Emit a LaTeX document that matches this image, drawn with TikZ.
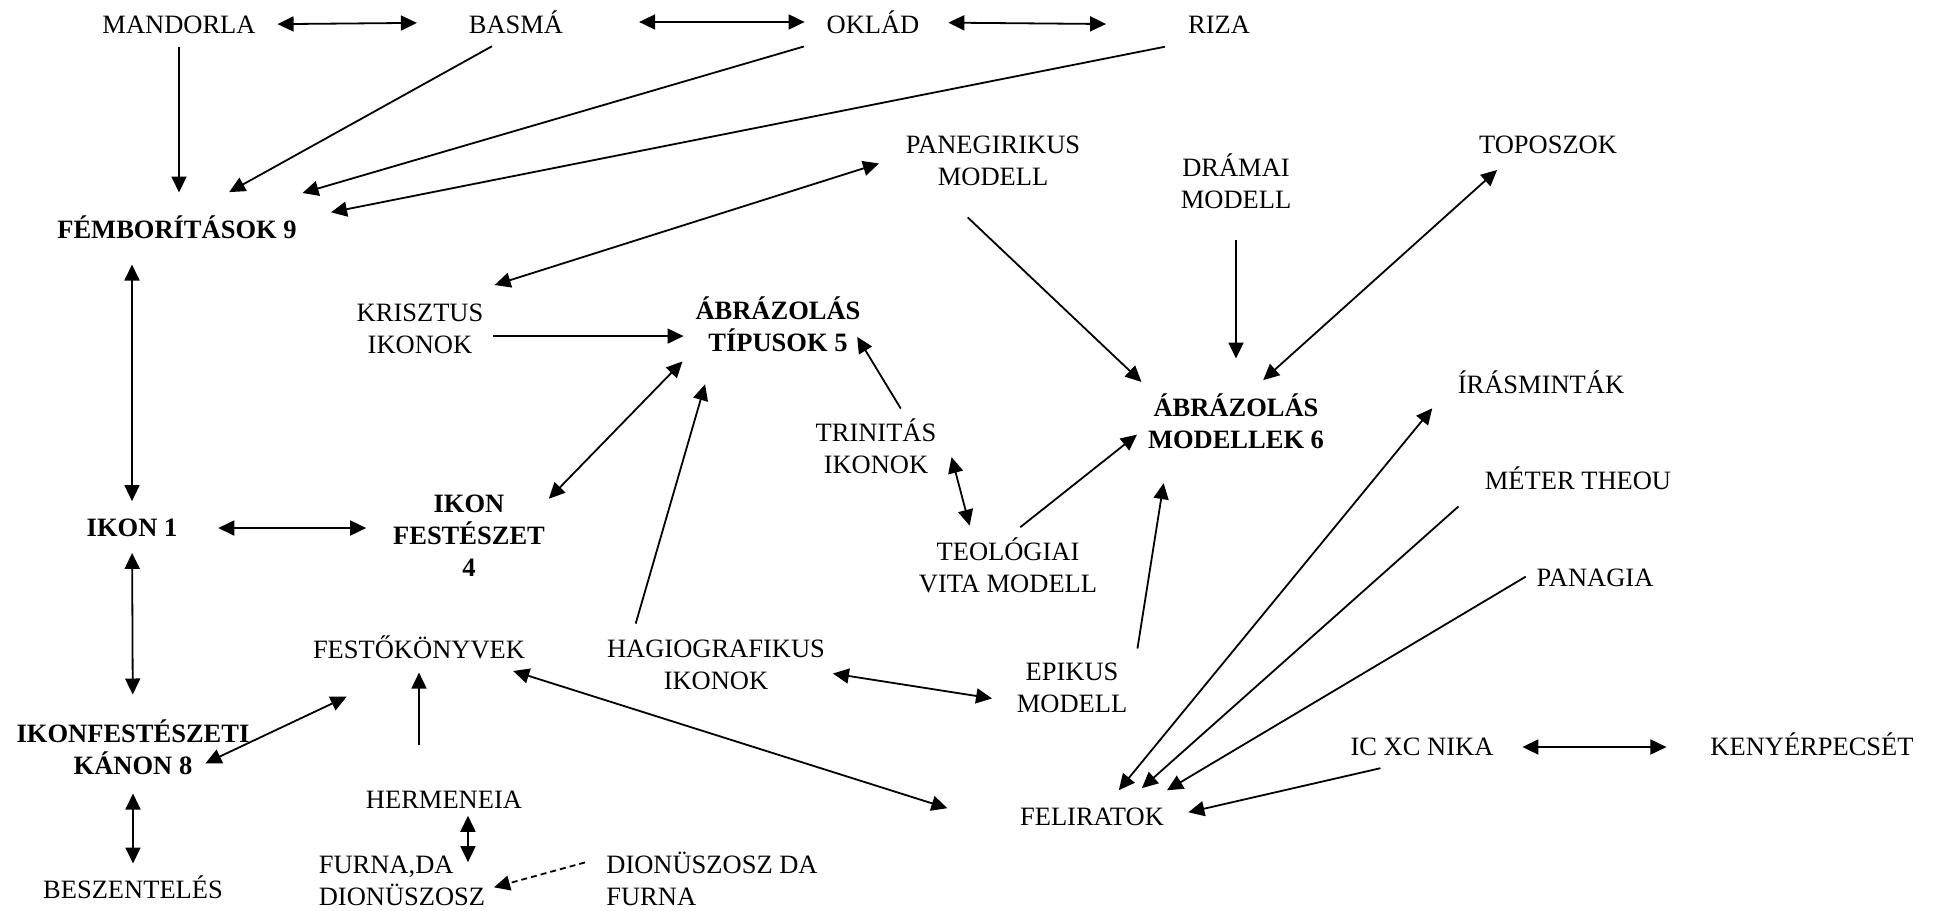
\documentclass[tikz,border=0pt]{standalone}
\usepackage{fontspec}
\setmainfont{Liberation Serif}
\usepackage{tikz}
\usetikzlibrary{arrows.meta}

\begin{document}
\begin{tikzpicture}[
    x=1pt, y=-1pt,
    every node/.style={font=\fontsize{26.5}{32}\selectfont, inner sep=4pt, outer sep=0pt},
    concepto/.style={align=center},
    clave/.style={align=center, font=\fontsize{26.5}{32}\selectfont\bfseries},
    arrow/.style={-{Triangle[length=16pt,width=15pt]}, line width=1.8pt},
    darrow/.style={{Triangle[length=16pt,width=15pt]}-{Triangle[length=16pt,width=15pt]}, line width=1.8pt},
    dashedarrow/.style={-{Triangle[length=16pt,width=15pt]}, line width=1.8pt, dash pattern=on 6pt off 4pt}
]
\useasboundingbox (0,0) rectangle (1937,910);

% Nodos (coordenadas en px de la imagen)
\node[concepto] (mandorla) at (179,25) {MANDORLA};
\node[concepto] (basma) at (516,22) {BASMÁ};
\node[concepto] (oklad) at (873,22) {OKLÁD};
\node[concepto] (riza) at (1219,25) {RIZA};
\node[clave] (fem) at (177,227) {FÉMBORÍTÁSOK 9};
\node[concepto] (paneg) at (993,161) {PANEGIRIKUS\\MODELL};
\node[concepto] (dramai) at (1236,181) {DRÁMAI\\MODELL};
\node[concepto] (toposz) at (1548,145) {TOPOSZOK};
\node[concepto] (kriszt) at (420,329) {KRISZTUS\\IKONOK};
\node[clave] (abrtip) at (778,324) {ÁBRÁZOLÁS\\TÍPUSOK 5};
\node[clave] (abrmod) at (1236,421) {ÁBRÁZOLÁS\\MODELLEK 6};
\node[concepto] (irasm) at (1541,382) {ÍRÁSMINTÁK};
\node[concepto] (trin) at (876,446) {TRINITÁS\\IKONOK};
\node[concepto] (meter) at (1578,478) {MÉTER THEOU};
\node[clave] (ikon) at (132,528) {IKON 1};
\node[clave] (ikf) at (469,536) {IKON\\FESTÉSZET\\4};
\node[concepto] (teol) at (1008,565) {TEOLÓGIAI\\VITA MODELL};
\node[concepto] (panagia) at (1595,578) {PANAGIA};
\node[concepto] (festo) at (419,647) {FESTŐKÖNYVEK};
\node[concepto] (hagio) at (716,665) {HAGIOGRAFIKUS\\IKONOK};
\node[concepto] (epikus) at (1072,688) {EPIKUS\\MODELL};
\node[clave] (kanon) at (133,747) {IKONFESTÉSZETI\\KÁNON 8};
\node[concepto] (icxc) at (1422,747) {IC XC NIKA};
\node[concepto] (kenyer) at (1812,744) {KENYÉRPECSÉT};
\node[concepto] (felir) at (1092,817) {FELIRATOK};
\node[concepto] (herm) at (444,800) {HERMENEIA};
\node[concepto, align=left] (furna) at (402,881) {FURNA,DA\\DIONÜSZOSZ};
\node[concepto, align=left] (dionda) at (712,879) {DIONÜSZOSZ DA\\FURNA};
\node[concepto] (besz) at (133,887) {BESZENTELÉS};

% Flechas
\draw[darrow, shorten <=18pt, shorten >=48pt] (mandorla) -- (basma);
\draw[darrow, shorten <=72pt, shorten >=18pt] (basma) -- (oklad);
\draw[darrow, shorten <=25pt, shorten >=78pt] (oklad) -- (riza);
\draw[arrow, shorten <=9pt, shorten >=19pt] (mandorla) -- (mandorla |- fem.north);
\draw[arrow, shorten <=18pt, shorten >=40pt] (basma.-118) -- (fem.42);
\draw[arrow, shorten <=32pt, shorten >=66pt] (oklad.-158) -- (fem.14);
\draw[arrow, shorten <=46pt, shorten >=31pt] (riza.-125) -- (fem.4);
\draw[darrow, shorten <=22pt, shorten >=14pt] (fem.south -| ikon.north) -- (ikon.north);
\draw[darrow, shorten <=37pt, shorten >=23pt] (ikon.east) -- (ikon.east -| ikf.west);
\draw[darrow, shorten <=12pt, shorten >=21pt] (ikon) -- (kanon);
\draw[darrow, shorten <=15pt, shorten >=8pt] (kanon) -- (besz);
\draw[darrow, shorten <=24pt, shorten >=50pt] (paneg.177) -- (kriszt.47);
\draw[arrow, shorten <=6pt, shorten >=8pt] (kriszt.-6) -- (kriszt.-6 -| abrtip.west);
\draw[darrow, shorten >=13pt] (ikf.25) -- (abrtip.198);
\draw[arrow, shorten <=13pt, shorten >=30pt] (hagio.161) -- (abrtip.206);
\draw[arrow, shorten <=7pt, shorten >=-14pt] (trin.48) -- (abrtip.-16);
\draw[darrow, shorten <=44pt, shorten >=8pt] (trin.north east) -- (teol.139);
\draw[arrow, shorten <=10pt, shorten >=9pt] (teol.82) -- (abrmod.185);
\draw[arrow, shorten <=40pt, shorten >=31pt] (epikus.east) -- (abrmod.205);
\draw[arrow, shorten <=40pt, shorten >=11pt] (paneg.208) -- (abrmod.160);
\draw[arrow, shorten <=27pt, shorten >=31pt] (dramai) -- (abrmod);
\draw[darrow, shorten <=18pt, shorten >=14pt] (toposz.199) -- (abrmod.62);
\draw[darrow, shorten <=4pt, shorten >=21pt] (hagio.-4) -- (epikus.193);
\draw[darrow, shorten <=-53pt, shorten >=80pt] (kanon.3) -- (festo.south);
\draw[arrow, shorten <=42pt, shorten >=10pt] (festo.south |- herm.north) -- (festo.south);
\draw[darrow, shorten <=28pt, shorten >=72pt] (festo.-13) -- (felir.south west);
\draw[darrow, shorten <=3pt, shorten >=-10pt] (herm.-28) -- (herm.-28 |- furna.north);
\draw[dashedarrow, shorten <=18pt, shorten >=5pt] (dionda.169) -- (furna.-5);
\draw[darrow, shorten <=34pt, shorten >=18pt] (irasm.west) -- (felir.40);
\draw[arrow, shorten <=30pt, shorten >=24pt] (meter.185) -- (felir.22);
\draw[arrow, shorten <=8pt, shorten >=27pt] (panagia.175) -- (felir.14);
\draw[arrow, shorten <=37pt, shorten >=21pt] (icxc.-113) -- (felir.east);
\draw[darrow, shorten <=25pt, shorten >=40pt] (icxc.east) -- (icxc.east -| kenyer.west);

\end{tikzpicture}
\end{document}
